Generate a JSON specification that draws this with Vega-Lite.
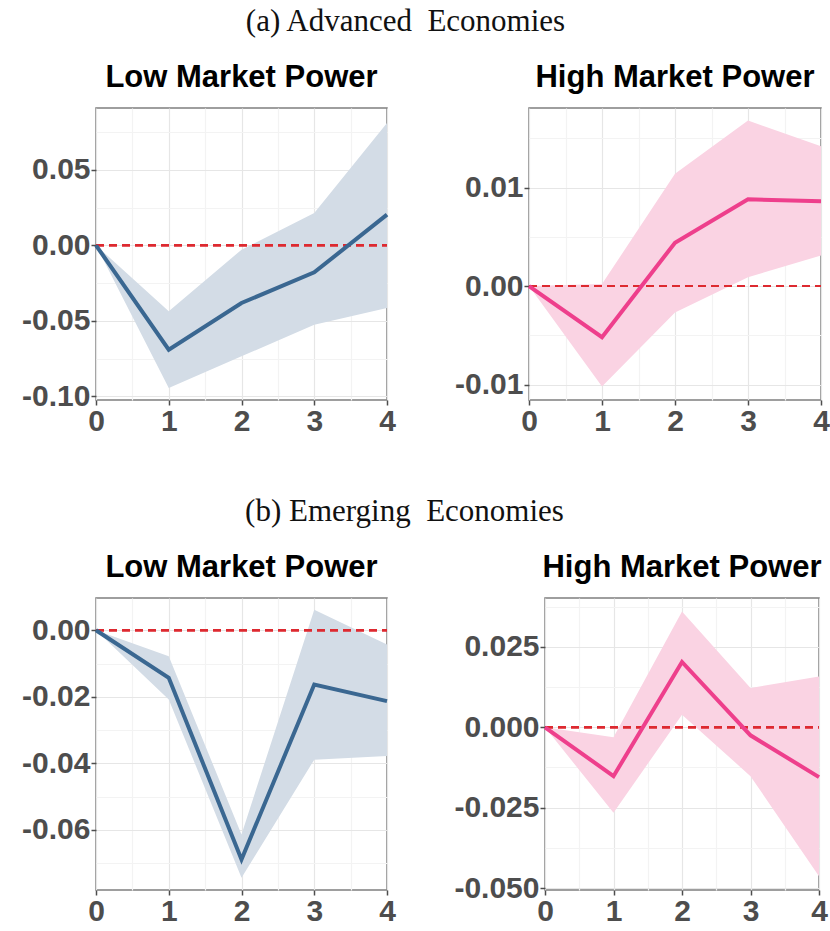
{
  "$schema": "https://vega.github.io/schema/vega-lite/v6.json",
  "padding": {"left": 20, "top": 6, "right": 0, "bottom": 0},
  "background": "white",
  "spacing": 59,
  "datasets": {
    "irf": [
      {"panel": "AL", "h": 0, "est": 0, "lo": 0, "hi": 0},
      {"panel": "AL", "h": 1, "est": -0.0691, "lo": -0.0945, "hi": -0.0437},
      {"panel": "AL", "h": 2, "est": -0.0382, "lo": -0.0735, "hi": -0.0029},
      {"panel": "AL", "h": 3, "est": -0.0179, "lo": -0.0526, "hi": 0.0214},
      {"panel": "AL", "h": 4, "est": 0.0203, "lo": -0.0415, "hi": 0.081},
      {"panel": "AH", "h": 0, "est": 0, "lo": 0, "hi": 0},
      {"panel": "AH", "h": 1, "est": -0.0052, "lo": -0.0102, "hi": 0.0002},
      {"panel": "AH", "h": 2, "est": 0.0044, "lo": -0.0027, "hi": 0.0114},
      {"panel": "AH", "h": 3, "est": 0.0088, "lo": 0.0009, "hi": 0.0168},
      {"panel": "AH", "h": 4, "est": 0.0086, "lo": 0.0031, "hi": 0.0142},
      {"panel": "EL", "h": 0, "est": 0, "lo": 0, "hi": 0},
      {"panel": "EL", "h": 1, "est": -0.0143, "lo": -0.0208, "hi": -0.0078},
      {"panel": "EL", "h": 2, "est": -0.0689, "lo": -0.0744, "hi": -0.0614},
      {"panel": "EL", "h": 3, "est": -0.0163, "lo": -0.0389, "hi": 0.0062},
      {"panel": "EL", "h": 4, "est": -0.0213, "lo": -0.0378, "hi": -0.0043},
      {"panel": "EH", "h": 0, "est": 0, "lo": 0, "hi": 0},
      {"panel": "EH", "h": 1, "est": -0.0152, "lo": -0.0266, "hi": -0.0031},
      {"panel": "EH", "h": 2, "est": 0.0203, "lo": 0.0039, "hi": 0.036},
      {"panel": "EH", "h": 3, "est": -0.0025, "lo": -0.0152, "hi": 0.0122},
      {"panel": "EH", "h": 4, "est": -0.0155, "lo": -0.0463, "hi": 0.0158}
    ]
  },
  "data": {"name": "irf"},
  "config": {
    "view": {"stroke": "#7f7f7f", "strokeWidth": 1.5},
    "axis": {
      "title": null,
      "domain": false,
      "labelFont": "Liberation Sans",
      "labelFontWeight": "bold",
      "labelFontSize": 30,
      "labelColor": "#4d4d4d",
      "tickColor": "#4d4d4d",
      "tickSize": 5,
      "tickWidth": 1.5,
      "labelPadding": 1,
      "gridColor": "#e6e6e6",
      "gridWidth": 1.2
    },
    "title": {"font": "Liberation Sans", "fontWeight": "bold", "fontSize": 31, "color": "black", "offset": 14}
  },
  "vconcat": [
    {
      "title": {"text": "(a) Advanced\u00a0 Economies", "font": "Liberation Serif", "fontWeight": "normal", "fontSize": 31, "color": "#111111", "anchor": "middle", "offset": 23, "dx": -20},
      "spacing": 56,
      "hconcat": [
        {
          "width": 291, "height": 292,
          "title": "Low Market Power",
          "transform": [{"filter": "datum.panel === 'AL'"}],
          "encoding": {
            "x": {"field": "h", "type": "quantitative", "scale": {"domain": [0, 4], "nice": false},
              "axis": {"values": [0, 0.5, 1, 1.5, 2, 2.5, 3, 3.5, 4], "labelFlush": false, "labelExpr": "datum.value % 1 === 0 ? format(datum.value, 'd') : ''",
                "gridColor": {"condition": {"test": "datum.value % 1 !== 0", "value": "#f3f3f3"}, "value": "#e6e6e6"},
                "tickOpacity": {"condition": {"test": "datum.value % 1 !== 0", "value": 0}, "value": 1}}}
          },
          "layer": [
            {"mark": {"type": "area", "color": "#d3dce6", "opacity": 1},
              "encoding": {
                "y": {"field": "lo", "type": "quantitative", "scale": {"domain": [-0.1024, 0.0909], "nice": false, "zero": false},
                  "axis": {"values": [-0.1, -0.075, -0.05, -0.025, 0, 0.025, 0.05, 0.075],
                    "labelExpr": "abs(datum.value/0.05 - round(datum.value/0.05)) > 0.01 ? '' : replace(format(datum.value, '.2f'), '\u2212', '-')",
                    "gridColor": {"condition": {"test": "abs(datum.value/0.05 - round(datum.value/0.05)) > 0.01", "value": "#f3f3f3"}, "value": "#e6e6e6"},
                    "tickOpacity": {"condition": {"test": "abs(datum.value/0.05 - round(datum.value/0.05)) > 0.01", "value": 0}, "value": 1}}},
                "y2": {"field": "hi"}
              }},
            {"mark": {"type": "rule", "color": "#dd2a30", "strokeDash": [8, 5], "strokeWidth": 2},
              "encoding": {"x": {"datum": 0}, "x2": {"datum": 4}, "y": {"datum": 0}}},
            {"mark": {"type": "line", "color": "#3a6791", "strokeWidth": 4},
              "encoding": {"y": {"field": "est", "type": "quantitative"}}}
          ]
        },
        {
          "width": 292, "height": 292,
          "title": "High Market Power",
          "transform": [{"filter": "datum.panel === 'AH'"}],
          "encoding": {
            "x": {"field": "h", "type": "quantitative", "scale": {"domain": [0, 4], "nice": false},
              "axis": {"values": [0, 0.5, 1, 1.5, 2, 2.5, 3, 3.5, 4], "labelFlush": false, "labelExpr": "datum.value % 1 === 0 ? format(datum.value, 'd') : ''",
                "gridColor": {"condition": {"test": "datum.value % 1 !== 0", "value": "#f3f3f3"}, "value": "#e6e6e6"},
                "tickOpacity": {"condition": {"test": "datum.value % 1 !== 0", "value": 0}, "value": 1}}}
          },
          "layer": [
            {"mark": {"type": "area", "color": "#fad3e3", "opacity": 1},
              "encoding": {
                "y": {"field": "lo", "type": "quantitative", "scale": {"domain": [-0.01157, 0.01807], "nice": false, "zero": false},
                  "axis": {"values": [-0.01, -0.005, 0, 0.005, 0.01, 0.015],
                    "labelExpr": "abs(datum.value/0.01 - round(datum.value/0.01)) > 0.01 ? '' : replace(format(datum.value, '.2f'), '\u2212', '-')",
                    "gridColor": {"condition": {"test": "abs(datum.value/0.01 - round(datum.value/0.01)) > 0.01", "value": "#f3f3f3"}, "value": "#e6e6e6"},
                    "tickOpacity": {"condition": {"test": "abs(datum.value/0.01 - round(datum.value/0.01)) > 0.01", "value": 0}, "value": 1}}},
                "y2": {"field": "hi"}
              }},
            {"mark": {"type": "rule", "color": "#dd2a30", "strokeDash": [8, 5], "strokeWidth": 2},
              "encoding": {"x": {"datum": 0}, "x2": {"datum": 4}, "y": {"datum": 0}}},
            {"mark": {"type": "line", "color": "#ee3f8c", "strokeWidth": 4},
              "encoding": {"y": {"field": "est", "type": "quantitative"}}}
          ]
        }
      ]
    },
    {
      "title": {"text": "(b) Emerging\u00a0 Economies", "font": "Liberation Serif", "fontWeight": "normal", "fontSize": 31, "color": "#111111", "anchor": "middle", "offset": 23, "dx": -20},
      "spacing": 56,
      "hconcat": [
        {
          "width": 291, "height": 292,
          "title": "Low Market Power",
          "transform": [{"filter": "datum.panel === 'EL'"}],
          "encoding": {
            "x": {"field": "h", "type": "quantitative", "scale": {"domain": [0, 4], "nice": false},
              "axis": {"values": [0, 0.5, 1, 1.5, 2, 2.5, 3, 3.5, 4], "labelFlush": false, "labelExpr": "datum.value % 1 === 0 ? format(datum.value, 'd') : ''",
                "gridColor": {"condition": {"test": "datum.value % 1 !== 0", "value": "#f3f3f3"}, "value": "#e6e6e6"},
                "tickOpacity": {"condition": {"test": "datum.value % 1 !== 0", "value": 0}, "value": 1}}}
          },
          "layer": [
            {"mark": {"type": "area", "color": "#d3dce6", "opacity": 1},
              "encoding": {
                "y": {"field": "lo", "type": "quantitative", "scale": {"domain": [-0.0781, 0.0097], "nice": false, "zero": false},
                  "axis": {"values": [-0.07, -0.06, -0.05, -0.04, -0.03, -0.02, -0.01, 0],
                    "labelExpr": "abs(datum.value/0.02 - round(datum.value/0.02)) > 0.01 ? '' : replace(format(datum.value, '.2f'), '\u2212', '-')",
                    "gridColor": {"condition": {"test": "abs(datum.value/0.02 - round(datum.value/0.02)) > 0.01", "value": "#f3f3f3"}, "value": "#e6e6e6"},
                    "tickOpacity": {"condition": {"test": "abs(datum.value/0.02 - round(datum.value/0.02)) > 0.01", "value": 0}, "value": 1}}},
                "y2": {"field": "hi"}
              }},
            {"mark": {"type": "rule", "color": "#dd2a30", "strokeDash": [8, 5], "strokeWidth": 2},
              "encoding": {"x": {"datum": 0}, "x2": {"datum": 4}, "y": {"datum": 0}}},
            {"mark": {"type": "line", "color": "#3a6791", "strokeWidth": 4},
              "encoding": {"y": {"field": "est", "type": "quantitative"}}}
          ]
        },
        {
          "width": 274, "height": 292,
          "title": "High Market Power",
          "transform": [{"filter": "datum.panel === 'EH'"}],
          "encoding": {
            "x": {"field": "h", "type": "quantitative", "scale": {"domain": [0, 4], "nice": false},
              "axis": {"values": [0, 0.5, 1, 1.5, 2, 2.5, 3, 3.5, 4], "labelFlush": false, "labelExpr": "datum.value % 1 === 0 ? format(datum.value, 'd') : ''",
                "gridColor": {"condition": {"test": "datum.value % 1 !== 0", "value": "#f3f3f3"}, "value": "#e6e6e6"},
                "tickOpacity": {"condition": {"test": "datum.value % 1 !== 0", "value": 0}, "value": 1}}}
          },
          "layer": [
            {"mark": {"type": "area", "color": "#fad3e3", "opacity": 1},
              "encoding": {
                "y": {"field": "lo", "type": "quantitative", "scale": {"domain": [-0.0506, 0.0402], "nice": false, "zero": false},
                  "axis": {"values": [-0.05, -0.0375, -0.025, -0.0125, 0, 0.0125, 0.025, 0.0375],
                    "labelExpr": "abs(datum.value/0.025 - round(datum.value/0.025)) > 0.01 ? '' : replace(format(datum.value, '.3f'), '\u2212', '-')",
                    "gridColor": {"condition": {"test": "abs(datum.value/0.025 - round(datum.value/0.025)) > 0.01", "value": "#f3f3f3"}, "value": "#e6e6e6"},
                    "tickOpacity": {"condition": {"test": "abs(datum.value/0.025 - round(datum.value/0.025)) > 0.01", "value": 0}, "value": 1}}},
                "y2": {"field": "hi"}
              }},
            {"mark": {"type": "rule", "color": "#dd2a30", "strokeDash": [8, 5], "strokeWidth": 2},
              "encoding": {"x": {"datum": 0}, "x2": {"datum": 4}, "y": {"datum": 0}}},
            {"mark": {"type": "line", "color": "#ee3f8c", "strokeWidth": 4},
              "encoding": {"y": {"field": "est", "type": "quantitative"}}}
          ]
        }
      ]
    }
  ]
}
